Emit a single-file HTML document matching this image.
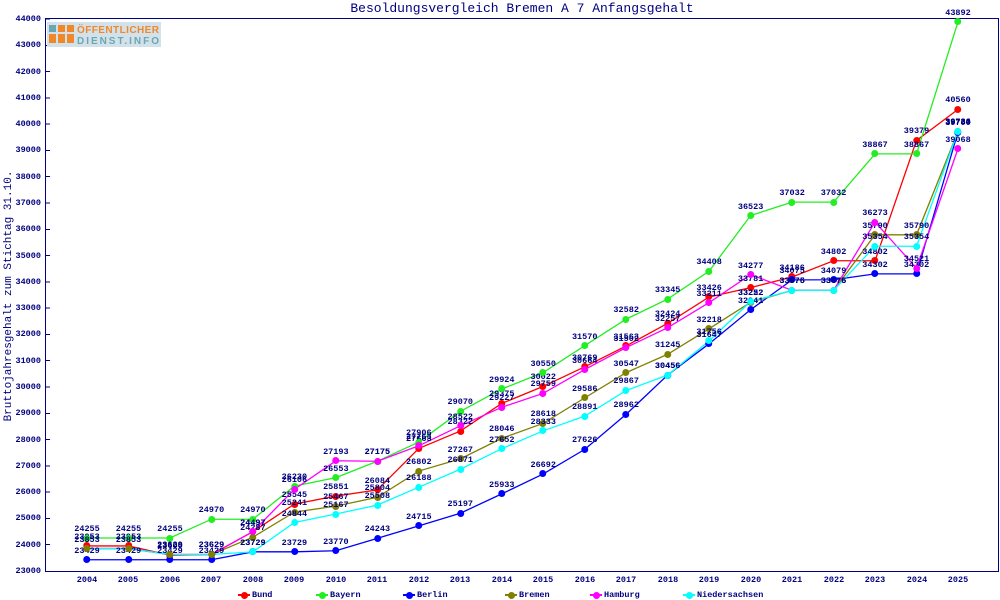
<!DOCTYPE html>
<html><head><meta charset="utf-8"><style>
*{margin:0;padding:0}
body{width:1000px;height:600px;background:#fff;position:relative;overflow:hidden;font-family:"Liberation Mono","DejaVu Sans Mono",monospace;color:#000080}
.a{position:absolute}
.s i{position:absolute;font-style:normal;font-size:8.5px;font-weight:bold;line-height:9px;color:#000080;white-space:nowrap;
left:calc(87px + var(--i)*41.476px);top:calc(571px - (var(--v) - 23000)*0.026286px);transform:translate(-50%,calc(-100% - 4px))}
.s i::after{content:"";position:absolute;left:50%;top:100%;width:7px;height:7px;margin-left:-3.5px;margin-top:0.5px;border-radius:50%;background:var(--c)}
.yl{position:absolute;right:959px;font-size:8.5px;font-weight:bold;line-height:10px;transform:translateY(-50%)}
.xl{position:absolute;top:575px;font-size:8.5px;font-weight:bold;transform:translateX(-50%)}
.lg{position:absolute;top:590px;font-size:8.5px;font-weight:bold;line-height:10px}
.lg b{position:absolute;left:-14px;top:4px;width:12px;height:2px}
.lg b::after{content:"";position:absolute;left:2.5px;top:-2.5px;width:7px;height:7px;border-radius:50%;background:inherit}
</style></head><body>
<div class="a" style="left:0;top:1px;width:1000px;text-align:center;font-size:13px;padding-left:44px;box-sizing:border-box">Besoldungsvergleich Bremen A 7 Anfangsgehalt</div>
<div class="a" style="left:-121px;top:290px;width:260px;text-align:center;font-size:11px;transform:rotate(-90deg)">Bruttojahresgehalt zum Stichtag 31.10.</div>
<svg class="a" style="left:0;top:0" width="1000" height="600">
<g stroke="#000080" stroke-width="1" fill="none" shape-rendering="crispEdges">
<path d="M45.5 18.5H998.5V571.5H45.5Z"/>
<path d="M45 19h5M45 45.3h5M45 71.6h5M45 97.9h5M45 124.2h5M45 150.4h5M45 176.7h5M45 203h5M45 229.3h5M45 255.6h5M45 281.9h5M45 308.1h5M45 334.4h5M45 360.7h5M45 387h5M45 413.3h5M45 439.6h5M45 465.8h5M45 492.1h5M45 518.4h5M45 544.7h5"/>
</g>
<rect x="47" y="22" width="114" height="25" fill="#d3e2ea"/>
<rect x="49" y="25" width="7" height="7" fill="#6aa7b3"/><rect x="58" y="25" width="7" height="7" fill="#f0882a"/><rect x="67" y="25" width="7" height="7" fill="#f0882a"/>
<rect x="49" y="34" width="7" height="9" fill="#f0882a"/><rect x="58" y="34" width="7" height="9" fill="#f0882a"/><rect x="67" y="34" width="7" height="9" fill="#f0882a"/>
<text x="77" y="33" font-family="Liberation Sans,sans-serif" font-weight="bold" font-size="10" fill="#f0882a" textLength="82">ÖFFENTLICHER</text>
<text x="77" y="44" font-family="Liberation Sans,sans-serif" font-weight="bold" font-size="10" fill="#6aa7b3" textLength="82">DIENST.INFO</text>
<svg x="87" y="18.97" width="871" height="552.03" viewBox="0 -44000 21 21000" preserveAspectRatio="none" overflow="visible">
<g fill="none" stroke-width="1.3">
<polyline vector-effect="non-scaling-stroke" stroke="#ff0000" points="0,-23953 1,-23953 2,-23600 3,-23629 4,-24497 5,-25545 6,-25851 7,-26084 8,-27663 9,-28322 10,-29375 11,-30022 12,-30769 13,-31563 14,-32424 15,-33426 16,-33781 17,-34186 18,-34802 19,-34802 20,-39379 21,-40560"/>
<polyline vector-effect="non-scaling-stroke" stroke="#22ee22" points="0,-24255 1,-24255 2,-24255 3,-24970 4,-24970 5,-26230 6,-26553 7,-27175 8,-27906 9,-29070 10,-29924 11,-30550 12,-31570 13,-32582 14,-33345 15,-34408 16,-36523 17,-37032 18,-37032 19,-38867 20,-38867 21,-43892"/>
<polyline vector-effect="non-scaling-stroke" stroke="#0000ff" points="0,-23429 1,-23429 2,-23429 3,-23429 4,-23729 5,-23729 6,-23770 7,-24243 8,-24715 9,-25197 10,-25933 11,-26692 12,-27626 13,-28962 14,-30456 15,-31647 16,-32941 17,-34075 18,-34079 19,-34302 20,-34302 21,-39700"/>
<polyline vector-effect="non-scaling-stroke" stroke="#808000" points="0,-23853 1,-23853 2,-23629 3,-23629 4,-24287 5,-25241 6,-25467 7,-25804 8,-26802 9,-27267 10,-28046 11,-28618 12,-29586 13,-30547 14,-31245 15,-32218 16,-33222 17,-33675 18,-33675 19,-35790 20,-35790 21,-39720"/>
<polyline vector-effect="non-scaling-stroke" stroke="#ff00ff" points="0,-23853 1,-23853 2,-23629 3,-23629 4,-24497 5,-26106 6,-27193 7,-27175 8,-27763 9,-28522 10,-29227 11,-29759 12,-30664 13,-31502 14,-32257 15,-33211 16,-34277 17,-33675 18,-33675 19,-36273 20,-34521 21,-39068"/>
<polyline vector-effect="non-scaling-stroke" stroke="#00ffff" points="0,-23853 1,-23853 2,-23629 3,-23629 4,-23729 5,-24844 6,-25167 7,-25508 8,-26188 9,-26871 10,-27652 11,-28333 12,-28891 13,-29867 14,-30456 15,-31756 16,-33252 17,-33676 18,-33676 19,-35354 20,-35354 21,-39734"/>
</g></svg>
</svg>
<div class="yl" style="top:19px">44000</div><div class="yl" style="top:45px">43000</div><div class="yl" style="top:72px">42000</div><div class="yl" style="top:98px">41000</div><div class="yl" style="top:124px">40000</div><div class="yl" style="top:150px">39000</div><div class="yl" style="top:177px">38000</div><div class="yl" style="top:203px">37000</div><div class="yl" style="top:229px">36000</div><div class="yl" style="top:256px">35000</div><div class="yl" style="top:282px">34000</div><div class="yl" style="top:308px">33000</div><div class="yl" style="top:334px">32000</div><div class="yl" style="top:361px">31000</div><div class="yl" style="top:387px">30000</div><div class="yl" style="top:413px">29000</div><div class="yl" style="top:440px">28000</div><div class="yl" style="top:466px">27000</div><div class="yl" style="top:492px">26000</div><div class="yl" style="top:518px">25000</div><div class="yl" style="top:545px">24000</div><div class="yl" style="top:571px">23000</div>
<div class="xl" style="left:87px">2004</div><div class="xl" style="left:128px">2005</div><div class="xl" style="left:170px">2006</div><div class="xl" style="left:211px">2007</div><div class="xl" style="left:253px">2008</div><div class="xl" style="left:294px">2009</div><div class="xl" style="left:336px">2010</div><div class="xl" style="left:377px">2011</div><div class="xl" style="left:419px">2012</div><div class="xl" style="left:460px">2013</div><div class="xl" style="left:502px">2014</div><div class="xl" style="left:543px">2015</div><div class="xl" style="left:585px">2016</div><div class="xl" style="left:626px">2017</div><div class="xl" style="left:668px">2018</div><div class="xl" style="left:709px">2019</div><div class="xl" style="left:751px">2020</div><div class="xl" style="left:792px">2021</div><div class="xl" style="left:834px">2022</div><div class="xl" style="left:875px">2023</div><div class="xl" style="left:917px">2024</div><div class="xl" style="left:958px">2025</div>
<div class="s" style="--c:#ff0000"><i style="--i:0;--v:23953">23953</i><i style="--i:1;--v:23953">23953</i><i style="--i:2;--v:23600">23600</i><i style="--i:3;--v:23629">23629</i><i style="--i:4;--v:24497">24497</i><i style="--i:5;--v:25545">25545</i><i style="--i:6;--v:25851">25851</i><i style="--i:7;--v:26084">26084</i><i style="--i:8;--v:27663">27663</i><i style="--i:9;--v:28322">28322</i><i style="--i:10;--v:29375">29375</i><i style="--i:11;--v:30022">30022</i><i style="--i:12;--v:30769">30769</i><i style="--i:13;--v:31563">31563</i><i style="--i:14;--v:32424">32424</i><i style="--i:15;--v:33426">33426</i><i style="--i:16;--v:33781">33781</i><i style="--i:17;--v:34186">34186</i><i style="--i:18;--v:34802">34802</i><i style="--i:19;--v:34802">34802</i><i style="--i:20;--v:39379">39379</i><i style="--i:21;--v:40560">40560</i></div>
<div class="s" style="--c:#22ee22"><i style="--i:0;--v:24255">24255</i><i style="--i:1;--v:24255">24255</i><i style="--i:2;--v:24255">24255</i><i style="--i:3;--v:24970">24970</i><i style="--i:4;--v:24970">24970</i><i style="--i:5;--v:26230">26230</i><i style="--i:6;--v:26553">26553</i><i style="--i:7;--v:27175">27175</i><i style="--i:8;--v:27906">27906</i><i style="--i:9;--v:29070">29070</i><i style="--i:10;--v:29924">29924</i><i style="--i:11;--v:30550">30550</i><i style="--i:12;--v:31570">31570</i><i style="--i:13;--v:32582">32582</i><i style="--i:14;--v:33345">33345</i><i style="--i:15;--v:34408">34408</i><i style="--i:16;--v:36523">36523</i><i style="--i:17;--v:37032">37032</i><i style="--i:18;--v:37032">37032</i><i style="--i:19;--v:38867">38867</i><i style="--i:20;--v:38867">38867</i><i style="--i:21;--v:43892">43892</i></div>
<div class="s" style="--c:#0000ff"><i style="--i:0;--v:23429">23429</i><i style="--i:1;--v:23429">23429</i><i style="--i:2;--v:23429">23429</i><i style="--i:3;--v:23429">23429</i><i style="--i:4;--v:23729">23729</i><i style="--i:5;--v:23729">23729</i><i style="--i:6;--v:23770">23770</i><i style="--i:7;--v:24243">24243</i><i style="--i:8;--v:24715">24715</i><i style="--i:9;--v:25197">25197</i><i style="--i:10;--v:25933">25933</i><i style="--i:11;--v:26692">26692</i><i style="--i:12;--v:27626">27626</i><i style="--i:13;--v:28962">28962</i><i style="--i:14;--v:30456">30456</i><i style="--i:15;--v:31647">31647</i><i style="--i:16;--v:32941">32941</i><i style="--i:17;--v:34075">34075</i><i style="--i:18;--v:34079">34079</i><i style="--i:19;--v:34302">34302</i><i style="--i:20;--v:34302">34302</i><i style="--i:21;--v:39700">39700</i></div>
<div class="s" style="--c:#808000"><i style="--i:0;--v:23853">23853</i><i style="--i:1;--v:23853">23853</i><i style="--i:2;--v:23629">23629</i><i style="--i:3;--v:23629">23629</i><i style="--i:4;--v:24287">24287</i><i style="--i:5;--v:25241">25241</i><i style="--i:6;--v:25467">25467</i><i style="--i:7;--v:25804">25804</i><i style="--i:8;--v:26802">26802</i><i style="--i:9;--v:27267">27267</i><i style="--i:10;--v:28046">28046</i><i style="--i:11;--v:28618">28618</i><i style="--i:12;--v:29586">29586</i><i style="--i:13;--v:30547">30547</i><i style="--i:14;--v:31245">31245</i><i style="--i:15;--v:32218">32218</i><i style="--i:16;--v:33222">33222</i><i style="--i:17;--v:33675">33675</i><i style="--i:18;--v:33675">33675</i><i style="--i:19;--v:35790">35790</i><i style="--i:20;--v:35790">35790</i><i style="--i:21;--v:39720">39720</i></div>
<div class="s" style="--c:#ff00ff"><i style="--i:4;--v:24497">24497</i><i style="--i:5;--v:26106">26106</i><i style="--i:6;--v:27193">27193</i><i style="--i:7;--v:27175">27175</i><i style="--i:8;--v:27763">27763</i><i style="--i:9;--v:28522">28522</i><i style="--i:10;--v:29227">29227</i><i style="--i:11;--v:29759">29759</i><i style="--i:12;--v:30664">30664</i><i style="--i:13;--v:31502">31502</i><i style="--i:14;--v:32257">32257</i><i style="--i:15;--v:33211">33211</i><i style="--i:16;--v:34277">34277</i><i style="--i:19;--v:36273">36273</i><i style="--i:20;--v:34521">34521</i><i style="--i:21;--v:39068">39068</i></div>
<div class="s" style="--c:#00ffff"><i style="--i:4;--v:23729">23729</i><i style="--i:5;--v:24844">24844</i><i style="--i:6;--v:25167">25167</i><i style="--i:7;--v:25508">25508</i><i style="--i:8;--v:26188">26188</i><i style="--i:9;--v:26871">26871</i><i style="--i:10;--v:27652">27652</i><i style="--i:11;--v:28333">28333</i><i style="--i:12;--v:28891">28891</i><i style="--i:13;--v:29867">29867</i><i style="--i:14;--v:30456">30456</i><i style="--i:15;--v:31756">31756</i><i style="--i:16;--v:33252">33252</i><i style="--i:17;--v:33676">33676</i><i style="--i:18;--v:33676">33676</i><i style="--i:19;--v:35354">35354</i><i style="--i:20;--v:35354">35354</i><i style="--i:21;--v:39734">39734</i></div>
<div class="lg" style="left:252px"><b style="background:#ff0000"></b>Bund</div>
<div class="lg" style="left:330px"><b style="background:#22ee22"></b>Bayern</div>
<div class="lg" style="left:417px"><b style="background:#0000ff"></b>Berlin</div>
<div class="lg" style="left:519px"><b style="background:#808000"></b>Bremen</div>
<div class="lg" style="left:604px"><b style="background:#ff00ff"></b>Hamburg</div>
<div class="lg" style="left:697px"><b style="background:#00ffff"></b>Niedersachsen</div>
</body></html>
